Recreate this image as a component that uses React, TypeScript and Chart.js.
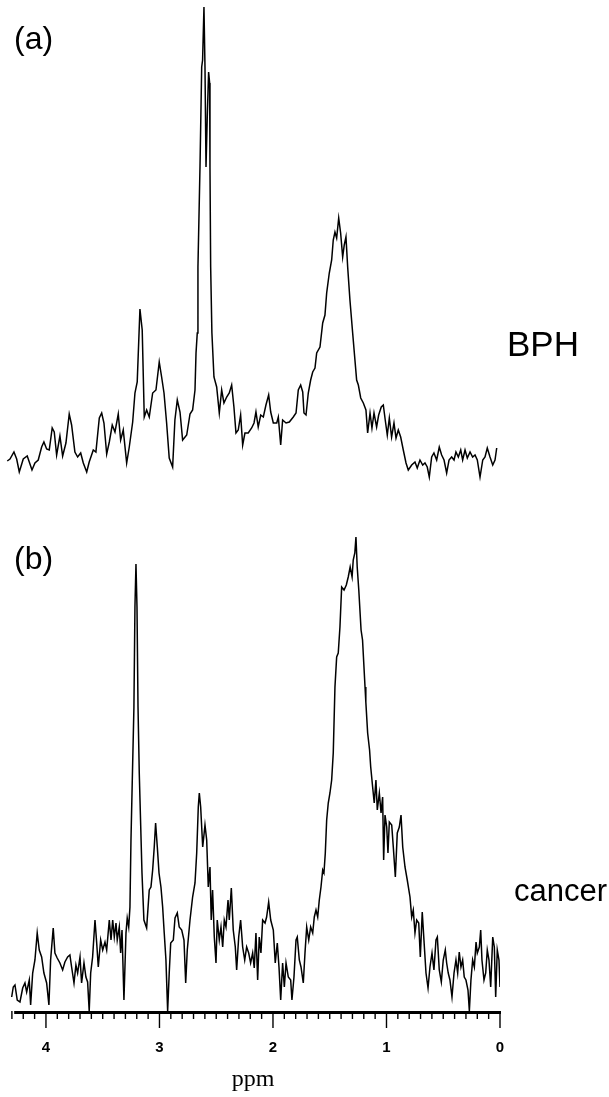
import React, { useEffect, useRef } from 'react';
import { Chart, registerables } from 'chart.js';

Chart.register(...registerables);

// Chemical shift axis (ppm), drawn reversed (high ppm on the left)
const X_MIN = 0;
const X_MAX = 4.352;
const AXIS_START = 4.28;
const TICK_STEP = 0.1;

// (a) BPH spectrum: chemical shift (ppm) and intensity (arbitrary units)
const PPM_A = [
  4.341, 4.317, 4.282, 4.258, 4.235, 4.2, 4.165, 4.123, 4.097, 4.068,
  4.038, 4.018, 3.994, 3.971, 3.945, 3.927, 3.906, 3.877, 3.853, 3.824,
  3.795, 3.774, 3.745, 3.721, 3.694, 3.671, 3.641, 3.619, 3.583, 3.56,
  3.53, 3.509, 3.489, 3.465, 3.442, 3.416, 3.392, 3.363, 3.342, 3.319,
  3.289, 3.266, 3.236, 3.216, 3.196, 3.172, 3.152, 3.134, 3.113, 3.09,
  3.06, 3.031, 3.002, 2.981, 2.96, 2.937, 2.914, 2.884, 2.864, 2.843,
  2.819, 2.796, 2.76, 2.731, 2.708, 2.687, 2.678, 2.667, 2.661, 2.643,
  2.628, 2.62, 2.608, 2.599, 2.59, 2.579, 2.567, 2.558, 2.555, 2.549,
  2.538, 2.52, 2.496, 2.473, 2.452, 2.432, 2.408, 2.385, 2.364, 2.344,
  2.326, 2.306, 2.285, 2.267, 2.247, 2.218, 2.188, 2.167, 2.15, 2.13,
  2.108, 2.085, 2.062, 2.038, 2.02, 1.997, 1.967, 1.953, 1.932, 1.915,
  1.885, 1.856, 1.821, 1.797, 1.777, 1.756, 1.738, 1.727, 1.709, 1.689,
  1.668, 1.65, 1.63, 1.615, 1.586, 1.562, 1.542, 1.527, 1.504, 1.483,
  1.469, 1.454, 1.439, 1.421, 1.404, 1.386, 1.372, 1.357, 1.342, 1.322,
  1.298, 1.278, 1.263, 1.248, 1.227, 1.204, 1.181, 1.166, 1.145, 1.128,
  1.11, 1.087, 1.069, 1.046, 1.028, 1.011, 0.993, 0.975, 0.955, 0.934,
  0.916, 0.896, 0.875, 0.852, 0.828, 0.808, 0.778, 0.749, 0.729, 0.705,
  0.681, 0.661, 0.641, 0.623, 0.602, 0.582, 0.558, 0.535, 0.514, 0.493,
  0.47, 0.449, 0.426, 0.405, 0.388, 0.367, 0.346, 0.329, 0.308, 0.288,
  0.264, 0.241, 0.22, 0.2, 0.176, 0.152, 0.132, 0.112, 0.088, 0.064,
  0.044, 0.029,
];
const INT_A = [
  19, 21, 28, 21, 8, 21, 24, 10, 17, 20,
  33, 38, 31, 30, 52, 48, 25, 44, 24, 37,
  66, 55, 28, 23, 27, 17, 8, 18, 30, 28,
  62, 67, 57, 26, 38, 55, 48, 66, 40, 50,
  17, 33, 58, 87, 98, 171, 150, 63, 70, 63,
  87, 90, 118, 103, 87, 57, 22, 13, 60, 80,
  68, 40, 45, 66, 70, 90, 127, 147, 213, 313,
  413, 420, 473, 413, 313, 363, 408, 397, 313, 213,
  147, 103, 93, 67, 90, 77, 83, 87, 95, 73,
  47, 50, 65, 35, 47, 47, 52, 57, 68, 53,
  65, 63, 75, 85, 68, 57, 57, 63, 35, 60,
  57, 58, 63, 67, 90, 95, 88, 67, 65, 87,
  100, 108, 112, 127, 133, 157, 165, 187, 207, 220,
  240, 248, 242, 262, 247, 223, 235, 243, 213, 180,
  147, 120, 100, 95, 82, 77, 70, 47, 67, 52,
  67, 53, 65, 73, 75, 60, 45, 62, 43, 57,
  42, 50, 43, 30, 17, 10, 15, 18, 12, 20,
  15, 17, 13, 3, 23, 27, 20, 33, 25, 20,
  7, 20, 23, 20, 28, 23, 30, 20, 30, 22,
  28, 23, 25, 20, 3, 20, 23, 32, 23, 15,
  20, 32,
];

// (b) cancer spectrum: chemical shift (ppm) and intensity (arbitrary units)
const PPM_B = [
  4.302, 4.288, 4.273, 4.253, 4.229, 4.205, 4.185, 4.17, 4.147, 4.135,
  4.117, 4.097, 4.077, 4.059, 4.038, 4.018, 3.994, 3.974, 3.959, 3.936,
  3.921, 3.901, 3.877, 3.853, 3.833, 3.809, 3.789, 3.774, 3.753, 3.736,
  3.721, 3.7, 3.686, 3.665, 3.648, 3.633, 3.619, 3.606, 3.589, 3.568,
  3.553, 3.539, 3.518, 3.5, 3.48, 3.465, 3.442, 3.427, 3.412, 3.398,
  3.383, 3.372, 3.354, 3.342, 3.33, 3.313, 3.295, 3.284, 3.271, 3.26,
  3.251, 3.24, 3.225, 3.216, 3.207, 3.198, 3.189, 3.178, 3.166, 3.154,
  3.137, 3.113, 3.09, 3.075, 3.06, 3.046, 3.034, 3.019, 3.004, 2.987,
  2.972, 2.958, 2.943, 2.928, 2.914, 2.901, 2.878, 2.863, 2.843, 2.826,
  2.804, 2.784, 2.769, 2.755, 2.731, 2.708, 2.687, 2.672, 2.658, 2.649,
  2.637, 2.619, 2.599, 2.584, 2.57, 2.555, 2.544, 2.532, 2.517, 2.502,
  2.491, 2.473, 2.458, 2.443, 2.429, 2.414, 2.396, 2.385, 2.367, 2.35,
  2.332, 2.32, 2.302, 2.285, 2.267, 2.249, 2.232, 2.214, 2.197, 2.179,
  2.165, 2.15, 2.135, 2.121, 2.106, 2.091, 2.07, 2.056, 2.038, 2.02,
  1.997, 1.98, 1.962, 1.947, 1.932, 1.915, 1.9, 1.885, 1.865, 1.844,
  1.833, 1.815, 1.797, 1.786, 1.768, 1.753, 1.733, 1.718, 1.703, 1.685,
  1.668, 1.65, 1.636, 1.621, 1.606, 1.592, 1.577, 1.562, 1.551, 1.539,
  1.527, 1.513, 1.498, 1.483, 1.469, 1.454, 1.439, 1.425, 1.41, 1.395,
  1.374, 1.354, 1.337, 1.32, 1.303, 1.293, 1.279, 1.269, 1.258, 1.244,
  1.224, 1.211, 1.189, 1.182, 1.166, 1.149, 1.139, 1.122, 1.108, 1.093,
  1.081, 1.063, 1.048, 1.034, 1.025, 1.013, 0.998, 0.987, 0.975, 0.954,
  0.94, 0.922, 0.905, 0.887, 0.872, 0.857, 0.837, 0.817, 0.793, 0.778,
  0.764, 0.749, 0.734, 0.716, 0.702, 0.685, 0.67, 0.652, 0.634, 0.617,
  0.599, 0.582, 0.564, 0.552, 0.535, 0.517, 0.5, 0.482, 0.47, 0.456,
  0.441, 0.423, 0.405, 0.388, 0.373, 0.359, 0.344, 0.329, 0.315, 0.3,
  0.282, 0.27, 0.256, 0.241, 0.226, 0.211, 0.2, 0.182, 0.17, 0.159,
  0.141, 0.126, 0.112, 0.097, 0.082, 0.064, 0.05, 0.038, 0.024, 0.009,
  0.0,
];
const INT_B = [
  14, 24, 26, 11, 9, 23, 28, 19, 31, 6,
  38, 51, 78, 61, 54, 38, 28, 6, 51, 83,
  58, 53, 48, 41, 49, 54, 56, 44, 28, 46,
  38, 54, 28, 48, 34, 29, 0, 38, 54, 91,
  68, 44, 71, 61, 69, 61, 91, 71, 91, 74,
  88, 71, 84, 58, 81, 11, 78, 93, 84, 104,
  171, 228, 304, 404, 447, 404, 304, 238, 188, 138,
  91, 83, 121, 124, 141, 164, 188, 164, 138, 124,
  104, 78, 51, 0, 38, 68, 71, 93, 98, 84,
  81, 71, 28, 61, 91, 114, 128, 158, 204, 218,
  204, 164, 186, 171, 124, 144, 91, 121, 74, 48,
  91, 71, 84, 64, 91, 84, 111, 91, 123, 81,
  64, 41, 74, 91, 64, 51, 64, 58, 48, 58,
  43, 78, 31, 74, 58, 91, 88, 94, 109, 91,
  81, 48, 68, 44, 11, 48, 24, 48, 34, 31,
  11, 34, 71, 74, 51, 44, 28, 58, 84, 71,
  84, 78, 94, 101, 94, 111, 124, 141, 138, 158,
  191, 208, 218, 231, 258, 324, 354, 358, 384, 424,
  421, 426, 434, 444, 434, 451, 458, 474, 444, 421,
  381, 371, 324, 309, 278, 261, 244, 224, 208, 231,
  201, 218, 198, 214, 151, 196, 184, 158, 189, 186,
  164, 134, 178, 184, 196, 164, 144, 131, 114, 94,
  101, 78, 91, 88, 54, 99, 71, 38, 23, 44,
  58, 41, 71, 74, 41, 29, 51, 61, 48, 38,
  31, 14, 38, 51, 38, 59, 44, 51, 34, 31,
  21, 0, 31, 51, 44, 69, 58, 64, 81, 51,
  31, 38, 61, 51, 24, 74, 64, 14, 61, 51,
  24,
];

const PANEL_LABELS = ['(a)', '(b)'];
const SAMPLE_LABELS = ['BPH', 'cancer'];

const SANS = '"Liberation Sans", Arial, Helvetica, sans-serif';
const SERIF = '"Liberation Serif", "Times New Roman", serif';

const isMajor = (v: number) => Math.abs(v - Math.round(v)) < 1e-6;

const axisPlugin = {
  id: 'ppmAxis',
  afterDraw(chart: any) {
    const { ctx, chartArea } = chart;
    const xs = chart.scales.x;
    const y0 = chartArea.bottom;
    ctx.save();
    ctx.strokeStyle = '#000';
    ctx.lineCap = 'butt';
    // axis line
    ctx.lineWidth = 3;
    ctx.beginPath();
    ctx.moveTo(xs.getPixelForValue(AXIS_START), y0 + 1.5);
    ctx.lineTo(xs.getPixelForValue(X_MIN) + 1, y0 + 1.5);
    ctx.stroke();
    // tick marks
    ctx.lineWidth = 1.4;
    xs.ticks.forEach((t: any, i: number) => {
      const px = xs.getPixelForTick(i);
      ctx.beginPath();
      ctx.moveTo(px, y0);
      ctx.lineTo(px, y0 + (isMajor(t.value) ? 17 : 8));
      ctx.stroke();
    });
    // panel and sample labels
    ctx.fillStyle = '#000';
    ctx.textBaseline = 'alphabetic';
    ctx.textAlign = 'left';
    ctx.font = `32px ${SANS}`;
    ctx.fillText(PANEL_LABELS[0], 14, 49);
    ctx.fillText(PANEL_LABELS[1], 14, 569);
    ctx.font = `35px ${SANS}`;
    ctx.fillText(SAMPLE_LABELS[0], 507, 356);
    ctx.font = `31px ${SANS}`;
    ctx.fillText(SAMPLE_LABELS[1], 514, 901);
    ctx.restore();
  },
};

export default function App() {
  const ref = useRef<HTMLCanvasElement>(null);

  useEffect(() => {
    if (!ref.current) return;
    const chart = new Chart(ref.current, {
      type: 'line',
      data: {
        datasets: [
          {
            label: SAMPLE_LABELS[0],
            data: PPM_A.map((x, i) => ({ x, y: INT_A[i] })),
            yAxisID: 'ya',
            borderColor: '#000',
            borderWidth: 1.5,
            pointRadius: 0,
            tension: 0,
            fill: false,
          },
          {
            label: SAMPLE_LABELS[1],
            data: PPM_B.map((x, i) => ({ x, y: INT_B[i] })),
            yAxisID: 'yb',
            borderColor: '#000',
            borderWidth: 1.5,
            pointRadius: 0,
            tension: 0,
            fill: false,
          },
        ],
      },
      options: {
        responsive: false,
        maintainAspectRatio: false,
        animation: false,
        events: [],
        layout: { padding: { left: 6, right: 109, top: 0, bottom: 0 } },
        plugins: {
          legend: { display: false },
          tooltip: { enabled: false },
        },
        scales: {
          x: {
            type: 'linear',
            position: 'bottom',
            reverse: true,
            min: X_MIN,
            max: X_MAX,
            bounds: 'data',
            afterFit: (s: any) => {
              s.height = 86;
            },
            grid: { display: false, drawTicks: true, tickLength: 28 },
            border: { display: false },
            ticks: {
              stepSize: TICK_STEP,
              includeBounds: false,
              autoSkip: false,
              maxRotation: 0,
              minRotation: 0,
              padding: 0,
              color: '#000',
              font: { family: SANS, size: 15, weight: 'bold' },
              callback: (v: any) => (isMajor(Number(v)) ? String(Math.round(Number(v))) : ''),
            },
            title: {
              display: true,
              text: 'ppm',
              color: '#000',
              font: { family: SERIF, size: 24 },
              padding: { top: 0, bottom: 3 },
            },
          },
          ya: {
            type: 'linear',
            position: 'left',
            stack: 'spectra',
            stackWeight: 490,
            weight: 2,
            min: -10,
            max: 480,
            display: false,
          },
          yb: {
            type: 'linear',
            position: 'left',
            stack: 'spectra',
            stackWeight: 521,
            weight: 1,
            min: 0,
            max: 521,
            display: false,
          },
        },
      } as any,
      plugins: [axisPlugin],
    });
    return () => chart.destroy();
  }, []);

  return (
    <div
      style={{
        position: 'absolute',
        left: 0,
        top: 0,
        width: 609,
        height: 1097,
        background: '#fff',
      }}
    >
      <canvas
        ref={ref}
        width={609}
        height={1097}
        style={{ display: 'block', width: 609, height: 1097 }}
      />
    </div>
  );
}
